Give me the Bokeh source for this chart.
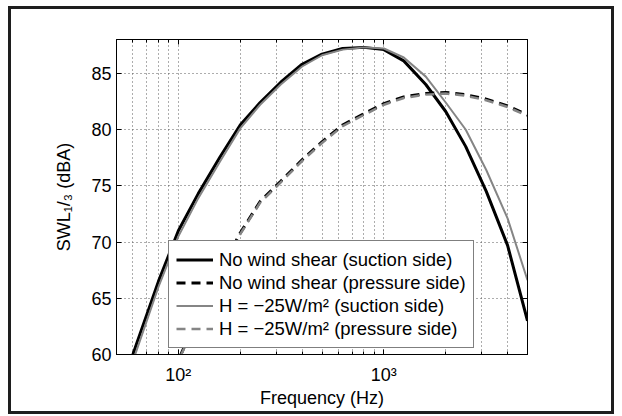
from bokeh.plotting import figure
from bokeh.models import (LinearAxis, LogAxis, FixedTicker, Legend, LegendItem, Range1d)
from bokeh.embed import file_html
from bokeh.resources import INLINE

# ---- data -------------------------------------------------------------
freq = [50, 63, 80, 100, 125, 160, 200, 250, 315, 400, 500, 630, 800, 1000,
        1250, 1600, 2000, 2500, 3150, 4000, 5000]
nows_suction = [55.7, 61.1, 66.5, 71.0, 74.3, 77.6, 80.4, 82.4, 84.2, 85.8, 86.7,
                87.2, 87.3, 87.1, 86.1, 84.0, 81.6, 78.5, 74.5, 69.7, 63.0]
h25_suction = [55.2, 60.5, 66.0, 70.5, 73.9, 77.2, 80.1, 82.2, 84.0, 85.6, 86.6,
               87.1, 87.3, 87.2, 86.4, 84.7, 82.4, 80.0, 76.4, 72.1, 66.6]
freq_p = [80, 100, 125, 160, 200, 250, 315, 400, 500, 630, 800, 1000,
          1250, 1600, 2000, 2500, 3150, 4000, 5000]
nows_pressure = [55.0, 59.5, 63.5, 67.4, 70.8, 73.6, 75.4, 77.3, 78.9, 80.4, 81.4,
                 82.3, 82.9, 83.2, 83.3, 83.1, 82.7, 82.1, 81.3]
h25_pressure = [54.9, 59.4, 63.4, 67.3, 70.7, 73.5, 75.3, 77.2, 78.8, 80.3, 81.3,
                82.2, 82.8, 83.1, 83.2, 83.0, 82.6, 82.0, 81.2]

series_labels = ["No wind shear (suction side)", "No wind shear (pressure side)",
                 "H = \u221225W/m\u00b2 (suction side)", "H = \u221225W/m\u00b2 (pressure side)"]

x_major = [100, 1000]
x_major_labels = {100: "10\u00b2", 1000: "10\u00b3"}
x_minor = [50, 60, 70, 80, 90, 200, 300, 400, 500, 600, 700, 800, 900,
           2000, 3000, 4000, 5000]
y_ticks = [60, 65, 70, 75, 80, 85]
x_lim = (50, 5000)
y_lim = (60, 88)
x_title = "Frequency (Hz)"
y_title = "SWL\u2081/\u2083 (dBA)"

FONT = "Liberation Sans"
FS = "18px"

p = figure(width=600, height=402, x_axis_type="log", y_axis_type="linear",
           x_range=Range1d(*x_lim), y_range=Range1d(*y_lim),
           output_backend="svg", toolbar_location=None,
           min_border_left=105, min_border_right=90, min_border_top=30,
           min_border_bottom=63)
p.background_fill_color = "white"
p.border_fill_color = "white"
p.outline_line_color = "black"
p.outline_line_width = 1
p.styles = {"border": "3px solid #1e1e1e", "box-sizing": "content-box",
            "margin-left": "8px", "margin-top": "6px"}

xt = FixedTicker(ticks=x_major, minor_ticks=x_minor)
yt = FixedTicker(ticks=y_ticks, minor_ticks=[])

ax_b = p.xaxis[0]
ax_b.ticker = xt
ax_b.major_label_overrides = x_major_labels
ax_b.axis_label = x_title
ax_l = p.yaxis[0]
ax_l.ticker = yt
ax_l.axis_label = y_title

for ax in (ax_b, ax_l):
    ax.axis_line_color = "black"
    ax.major_tick_line_color = "black"
    ax.minor_tick_line_color = "black"
    ax.major_tick_in = 5
    ax.major_tick_out = 0
    ax.minor_tick_in = 3
    ax.minor_tick_out = 0
    ax.major_label_text_font = FONT
    ax.major_label_text_font_size = FS
    ax.major_label_text_color = "black"
    ax.axis_label_text_font = FONT
    ax.axis_label_text_font_size = FS
    ax.axis_label_text_font_style = "normal"
    ax.axis_label_text_color = "black"
ax_b.major_label_standoff = 10
ax_b.axis_label_standoff = 0
ax_l.major_label_standoff = 5
ax_l.axis_label_standoff = 14

ax_t = LogAxis(ticker=xt)
ax_r = LinearAxis(ticker=yt)
for ax in (ax_t, ax_r):
    ax.axis_line_color = "black"
    ax.major_tick_line_color = "black"
    ax.minor_tick_line_color = "black"
    ax.major_tick_in = 5
    ax.major_tick_out = 0
    ax.minor_tick_in = 3
    ax.minor_tick_out = 0
    ax.major_label_text_font_size = "10px"
    ax.major_label_text_color = None
    ax.major_label_standoff = 0
p.add_layout(ax_t, "above")
p.add_layout(ax_r, "right")

p.xgrid.ticker = xt
p.ygrid.ticker = yt
for g in (p.xgrid[0], p.ygrid[0]):
    g.grid_line_color = "#5a5a5a"
    g.grid_line_dash = "1 3"
    g.grid_line_width = 1
p.xgrid[0].minor_grid_line_color = "#5a5a5a"
p.xgrid[0].minor_grid_line_dash = "1 3"

GRAY = "#858585"
r1 = p.line(freq, nows_suction, line_color="black", line_width=3)
r2 = p.line(freq_p, nows_pressure, line_color="black", line_width=3, line_dash="9 6")
r3 = p.line(freq, h25_suction, line_color=GRAY, line_width=2)
r4 = p.line(freq_p, h25_pressure, line_color=GRAY, line_width=2.5, line_dash="9 6")

legend = Legend(items=[LegendItem(label=series_labels[i], renderers=[r])
                       for i, r in enumerate([r1, r2, r3, r4])],
                location=(52, 6), margin=0, padding=7, spacing=0,
                label_height=23, glyph_height=23, glyph_width=37,
                label_standoff=6, label_text_font=FONT, label_text_font_size="18.5px",
                label_text_color="black", border_line_color="black",
                border_line_width=1, background_fill_color="white",
                background_fill_alpha=1.0)
p.add_layout(legend, "center")

open("out.html", "w").write(file_html(p, INLINE))
